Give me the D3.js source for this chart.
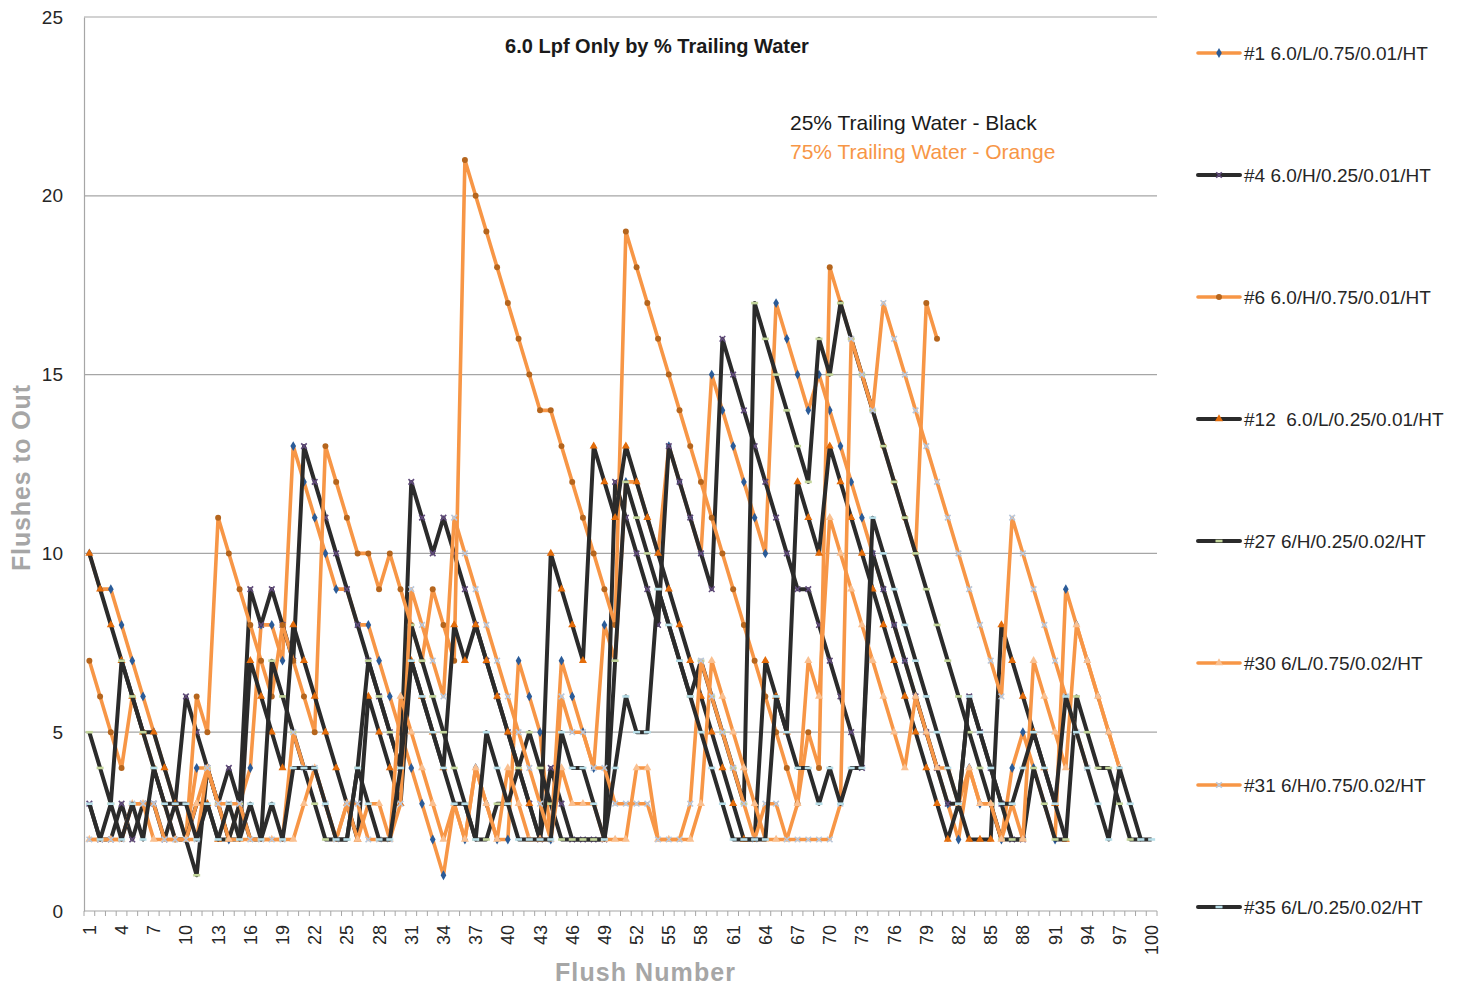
<!DOCTYPE html>
<html>
<head>
<meta charset="utf-8">
<script src="https://cdn.jsdelivr.net/npm/d3@7"></script>
<style>
  body { margin: 0; background: #fff; }
  text { font-family: "Liberation Sans", Arial, sans-serif; white-space: pre; }
</style>
</head>
<body>
<svg id="chart" width="1468" height="988"></svg>
<script>
// Flush numbers (categories) and tick labels
const flushNumbers = d3.range(1, 101);
const xTickLabels = d3.range(1, 101, 3);
const yTickValues = [0, 5, 10, 15, 20, 25];

const seriesNames = [
  '#1 6.0/L/0.75/0.01/HT',
  '#4 6.0/H/0.25/0.01/HT',
  '#6 6.0/H/0.75/0.01/HT',
  '#12  6.0/L/0.25/0.01/HT',
  '#27 6/H/0.25/0.02/HT',
  '#30 6/L/0.75/0.02/HT',
  '#31 6/H/0.75/0.02/HT',
  '#35 6/L/0.25/0.02/HT'
];

// Flushes to out, by flush number
const s1 = [10,9,9,8,7,6,5,4,3,2, 4,4,3,2,3,4,8,8,7,13, 12,11,10,9,9,8,8,7,6,5,
  4,3,2,1,3,2,4,3,2,2, 7,6,5,2,7,6,5,4,8,7, 12,12,11,10,13,12,11,10,15,14,
  13,12,11,10,17,16,15,14,15,14, 13,12,11,10,9,8,7,6,5,4, 3,2,4,3,3,2,4,5,4,3,
  2,9,8,7,6,5,4];
const s4 = [3,2,2,3,2,3,3,2,3,6, 5,4,3,4,3,9,8,9,8,7, 13,12,11,10,9,8,7,6,5,4,
  12,11,10,11,10,9,8,7,6,5, 4,3,2,4,3,2,2,2,2,12, 11,10,9,8,13,12,11,10,9,16,
  15,14,13,12,11,10,9,9,8,7, 6,5,4,10,9,8,7,6,5,4, 3,3,6,5,4,3,2,2];
const s6 = [7,6,5,4,6,5,4,3,2,2, 6,5,11,10,9,8,7,6,8,7, 6,5,13,12,11,10,10,9,10,9,
  8,7,9,8,7,21,20,19,18,17, 16,15,14,14,13,12,11,10,9,8, 19,18,17,16,15,14,13,12,11,10,
  9,8,7,6,5,4,3,5,4,18, 17,16,15,14,13,12,11,10,17,16];
const s12 = [10,9,8,7,6,5,5,4,3,2, 3,3,2,2,2,7,6,5,4,8, 7,6,5,4,3,2,6,5,4,3,
  7,6,5,4,8,7,8,7,6,5, 4,3,2,10,9,8,7,13,12,11, 13,12,11,10,9,8,7,6,5,4,
  3,2,2,7,6,5,12,11,10,13, 12,11,10,9,8,7,6,5,4,3, 2,3,2,2,2,8,7,6,5,4, 3,2];
const s27 = [5,4,3,7,6,5,4,3,2,2, 1,4,3,2,3,2,2,7,6,5, 4,3,2,2,2,4,7,6,5,4,
  8,7,6,5,4,3,2,2,3,3, 4,5,4,3,2,2,2,2,2,7, 12,11,10,9,8,7,6,7,6,5,
  4,3,17,16,15,14,13,12,16,15, 17,16,15,14,13,12,11,10,9,8, 7,6,5,4,3,2,2,2,4,3,
  2,2,6,5,4,4,3,2,2];
const s30 = [2,2,2,2,3,3,2,2,2,2, 3,4,3,2,2,2,2,2,2,2, 3,4,3,2,3,2,3,3,2,6,
  5,4,3,2,3,2,4,3,2,4, 3,2,2,2,4,3,3,3,2,2, 2,4,4,2,2,2,2,3,7,6,
  5,4,3,2,2,2,3,7,6,11, 10,9,8,7,6,5,4,6,5,4, 4,3,4,3,3,2,3,2,7,6,
  5,4,8,7,6,5,4];
const s31 = [2,2,2,2,3,3,3,2,2,2, 2,4,3,3,3,2,2,2,2,5, 4,4,3,2,3,3,2,2,2,3,
  9,8,7,6,11,10,9,8,7,6, 5,4,3,2,6,5,5,4,4,3, 3,3,3,2,2,2,3,7,6,5,
  4,3,2,3,3,2,2,2,2,2, 3,16,15,14,17,16,15,14,13,12, 11,10,9,8,7,6,11,10,9,8,
  7,6,5,4];
const s35 = [3,2,3,2,3,2,4,3,3,3, 2,3,2,3,2,3,2,3,2,4, 4,4,3,2,2,4,3,2,2,4,
  7,6,5,4,3,3,2,5,4,3, 2,2,2,2,5,4,4,3,2,4, 6,5,5,9,8,7,6,5,4,3,
  2,2,2,2,6,5,4,4,3,4, 3,4,4,11,10,9,8,7,6,5, 4,3,6,5,4,3,3,4,5,4,
  3,6,5,4,3,2,4,3,2,2];

const seriesValues = [s1, s4, s6, s12, s27, s30, s31, s35];

const orange = '#f79646';
const dark = '#2b2b2b';
const lineColors = [orange, dark, orange, dark, dark, orange, orange, dark];
const markerColors = ['#2a5b98', '#604a7b', '#b5651d', '#e46c0a', '#c3d69b', '#fac090', '#b9c7da', '#b7dee8'];
const markerShapes = ['diamond', 'x', 'circle', 'triangle', 'dash', 'triangle', 'x', 'dash'];

const svg = d3.select('#chart');
const margin = { left: 84, right: 1157, top: 17, bottom: 911 };

const x = d3.scaleBand()
  .domain(flushNumbers)
  .range([margin.left, margin.right])
  .padding(0);
const y = d3.scaleLinear()
  .domain([0, 25])
  .range([margin.bottom, margin.top]);
const cx = d => x(d) + x.bandwidth() / 2;

// Horizontal gridlines
svg.append('g')
  .selectAll('line')
  .data(yTickValues.filter(v => v > 0))
  .enter().append('line')
  .attr('x1', margin.left)
  .attr('x2', margin.right)
  .attr('y1', d => y(d))
  .attr('y2', d => y(d))
  .attr('stroke', '#a6a6a6')
  .attr('stroke-width', 1.2);

// Y axis
const yAxis = svg.append('g')
  .attr('transform', `translate(${margin.left},0)`)
  .call(d3.axisLeft(y).tickValues(yTickValues).tickSize(0).tickPadding(21));
yAxis.select('.domain').attr('stroke', '#a6a6a6').attr('stroke-width', 1.2);
yAxis.selectAll('text').attr('font-size', 19).attr('fill', '#262626')
  .style('font-family', '"Liberation Sans", Arial, sans-serif');

// X axis: a tick at every category edge, label every third flush
const xAxisG = svg.append('g')
  .attr('transform', `translate(0,${margin.bottom})`);
xAxisG.append('line')
  .attr('x1', margin.left).attr('x2', margin.right)
  .attr('y1', 0).attr('y2', 0)
  .attr('stroke', '#a6a6a6').attr('stroke-width', 1.2);
xAxisG.selectAll('.tick-mark')
  .data(flushNumbers.concat([101]))
  .enter().append('line')
  .attr('class', 'tick-mark')
  .attr('x1', d => d <= 100 ? x(d) : margin.right)
  .attr('x2', d => d <= 100 ? x(d) : margin.right)
  .attr('y1', 0).attr('y2', 5)
  .attr('stroke', '#a6a6a6');
xAxisG.selectAll('.tick-label')
  .data(xTickLabels)
  .enter().append('text')
  .attr('class', 'tick-label')
  .attr('transform', d => `translate(${cx(d) + 6.5},14) rotate(-90)`)
  .attr('text-anchor', 'end')
  .attr('font-size', 18)
  .attr('fill', '#262626')
  .text(d => d);

// Series lines
const line = d3.line()
  .defined(d => d != null)
  .x((d, i) => cx(flushNumbers[i]))
  .y(d => y(d));

function drawMarker(g, shape, color, px, py) {
  if (shape === 'dash') {
    g.append('rect')
      .attr('x', px - 3.5).attr('y', py - 1.3)
      .attr('width', 7).attr('height', 2.6)
      .attr('fill', color);
    return;
  }
  const types = { diamond: d3.symbolDiamond, x: d3.symbolX, circle: d3.symbolCircle, triangle: d3.symbolTriangle };
  const sym = d3.symbol().type(types[shape]).size(shape === 'x' ? 22 : 28);
  const p = g.append('path')
    .attr('d', sym())
    .attr('transform', `translate(${px},${py})`);
  if (shape === 'x') {
    p.attr('fill', 'none').attr('stroke', color).attr('stroke-width', 1.6);
  } else {
    p.attr('fill', color);
  }
}

seriesValues.forEach((vals, k) => {
  const g = svg.append('g').attr('class', 'series');
  g.append('path')
    .datum(vals)
    .attr('d', line)
    .attr('fill', 'none')
    .attr('stroke', lineColors[k])
    .attr('stroke-width', lineColors[k] === dark ? 4 : 3.6)
    .attr('stroke-linejoin', 'round');
  vals.forEach((v, i) => {
    if (v != null) drawMarker(g, markerShapes[k], markerColors[k], cx(flushNumbers[i]), y(v));
  });
});

// Legend
const legend = svg.append('g');
seriesNames.forEach((name, k) => {
  const ly = 53 + k * 122;
  legend.append('line')
    .attr('x1', 1198).attr('x2', 1240)
    .attr('y1', ly).attr('y2', ly)
    .attr('stroke', lineColors[k])
    .attr('stroke-width', lineColors[k] === dark ? 4 : 3.6)
    .attr('stroke-linecap', 'round');
  drawMarker(legend, markerShapes[k], markerColors[k], 1219, ly);
  legend.append('text')
    .attr('x', 1244).attr('y', ly + 7)
    .attr('font-size', 19)
    .attr('fill', '#262626')
    .text(name);
});

// Titles and notes
svg.append('text')
  .attr('x', 657).attr('y', 53)
  .attr('text-anchor', 'middle')
  .attr('font-size', 20).attr('font-weight', 'bold')
  .attr('fill', '#1a1a1a')
  .text('6.0 Lpf Only by % Trailing Water');

svg.append('text')
  .attr('x', 790).attr('y', 130)
  .attr('font-size', 21)
  .attr('fill', '#1a1a1a')
  .text('25% Trailing Water - Black');
svg.append('text')
  .attr('x', 790).attr('y', 159)
  .attr('font-size', 21)
  .attr('fill', orange)
  .text('75% Trailing Water - Orange');

svg.append('text')
  .attr('transform', 'translate(30,478) rotate(-90)')
  .attr('text-anchor', 'middle')
  .attr('font-size', 25).attr('font-weight', 'bold')
  .attr('fill', '#a6a6a6')
  .attr('textLength', 186)
  .text('Flushes to Out');

svg.append('text')
  .attr('x', 645).attr('y', 981)
  .attr('text-anchor', 'middle')
  .attr('font-size', 25).attr('font-weight', 'bold')
  .attr('fill', '#a6a6a6')
  .attr('textLength', 180)
  .text('Flush Number');
</script>
</body>
</html>
